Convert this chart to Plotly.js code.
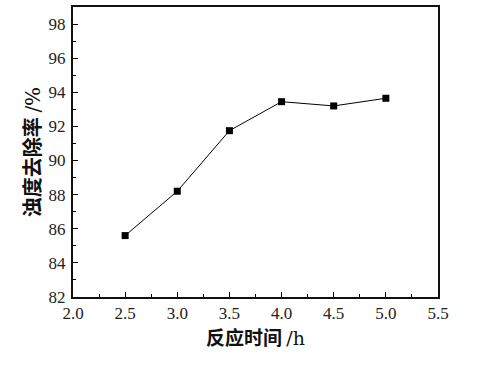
<!DOCTYPE html>
<html><head><meta charset="utf-8">
<script src="https://cdn.plot.ly/plotly-3.0.1.min.js"></script>
<style>html,body{margin:0;padding:0;background:#fff;}</style>
</head><body>
<div id="chart" style="width:486px;height:369px;"></div>
<script>
var timeH = [2.5, 3.0, 3.5, 4.0, 4.5, 5.0];
var removalRate = [85.6, 88.2, 91.75, 93.45, 93.2, 93.65];
var xTitle = '反应时间 <span style="font-family:DejaVu Serif;font-weight:normal">/h</span>';
var yTitle = '浊度去除率 <span style="font-family:DejaVu Serif;font-weight:normal">/%</span>';

var trace = {
  x: timeH, y: removalRate, mode: 'lines+markers', type: 'scatter',
  line: {color: '#000', width: 1},
  marker: {symbol: 'square', size: 7, color: '#000'},
  showlegend: false
};
var tickFont = {family: 'Liberation Serif, DejaVu Serif, serif', size: 17, color: '#222'};
var layout = {
  width: 486, height: 369,
  margin: {l: 73, r: 48, t: 7, b: 72},
  paper_bgcolor: '#fff', plot_bgcolor: '#fff',
  xaxis: {
    range: [2.0, 5.5], tick0: 2.0, dtick: 0.5, tickformat: '.1f',
    ticks: 'inside', ticklen: 5, tickwidth: 1, tickcolor: '#000',
    minor: {ticks: 'inside', ticklen: 3, dtick: 0.25, tickcolor: '#000', showgrid: false},
    showline: true, linecolor: '#111', linewidth: 2, mirror: true,
    showgrid: false, zeroline: false, tickfont: tickFont,
    title: {text: xTitle, font: {family: 'Noto Sans CJK SC', size: 19, color: '#111', weight: 'bold'}, standoff: 5}
  },
  yaxis: {
    range: [82, 99], tick0: 82, dtick: 2,
    ticks: 'inside', ticklen: 5, tickwidth: 1, tickcolor: '#000',
    minor: {ticks: 'inside', ticklen: 3, dtick: 1, tickcolor: '#000', showgrid: false},
    showline: true, linecolor: '#111', linewidth: 2, mirror: true,
    showgrid: false, zeroline: false, tickfont: tickFont, ticklabelstandoff: 2,
    title: {text: yTitle, font: {family: 'Noto Sans CJK SC', size: 20, color: '#111', weight: 'bold'}, standoff: 3}
  }
};
Plotly.newPlot('chart', [trace], layout, {displayModeBar: false, staticPlot: true});
</script>
</body></html>
